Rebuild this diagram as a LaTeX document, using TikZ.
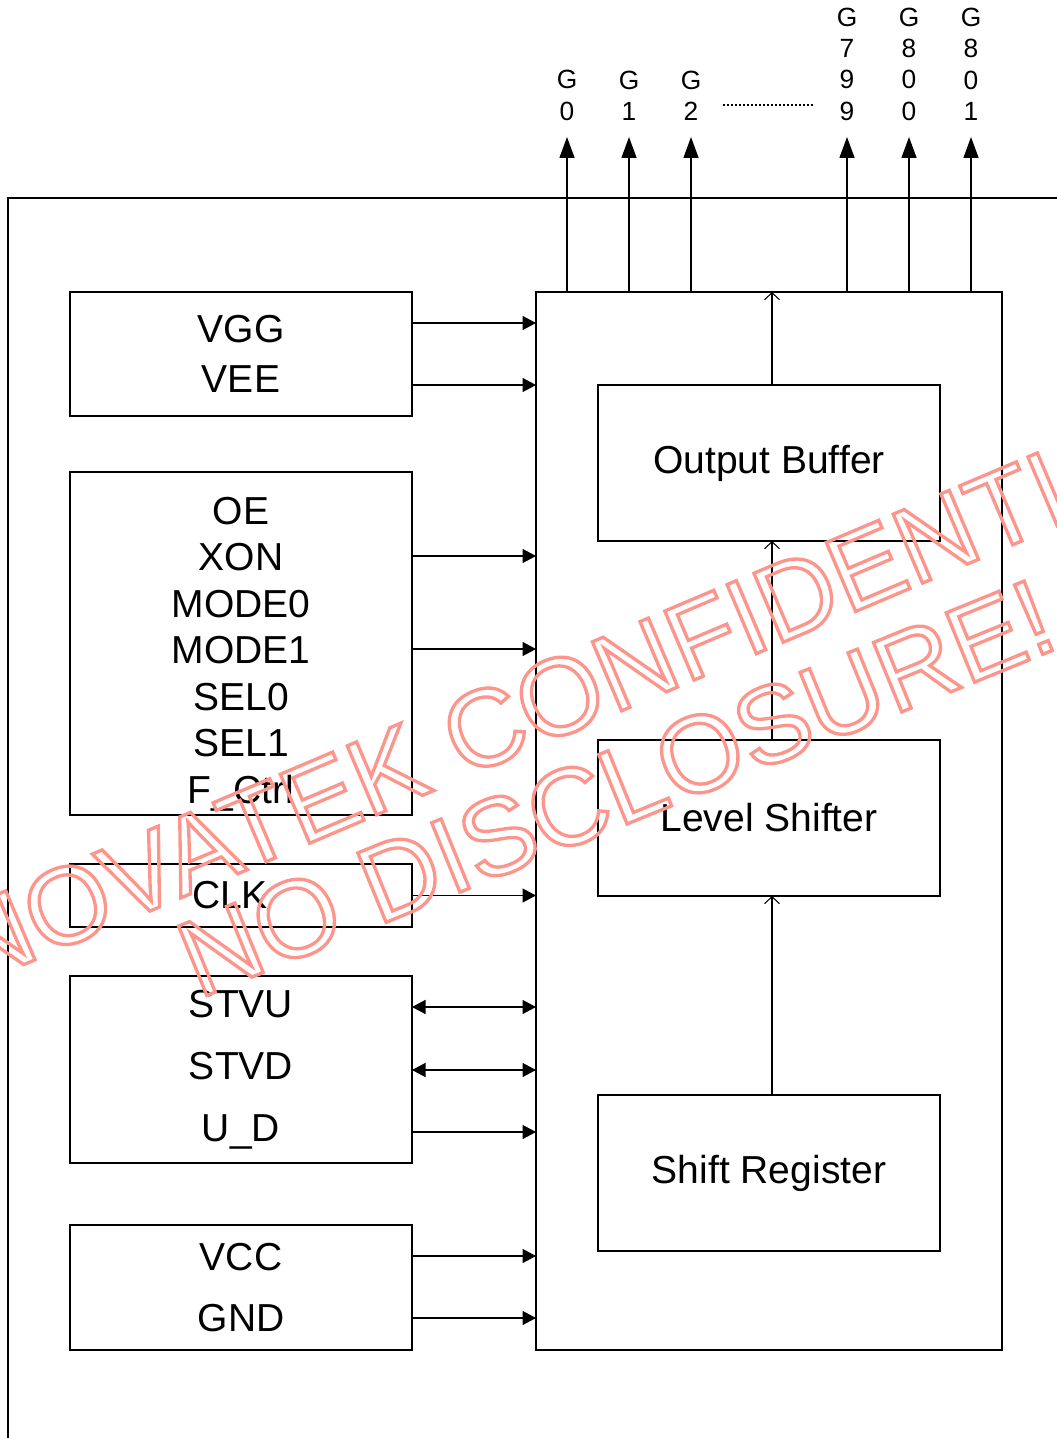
\documentclass[tikz,border=0pt]{standalone}
\usepackage{fontspec}
\setmainfont{Liberation Sans}
\usepackage{xcolor}
\definecolor{wmred}{RGB}{252,150,140}
\usetikzlibrary{arrows.meta,positioning,calc}

\begin{document}
\begin{tikzpicture}[
  blk/.style={draw,line width=1pt,outer sep=0pt,inner sep=0pt,minimum width=68.4mm,align=center,
    font=\fontsize{22.2pt}{26.5pt}\selectfont},
  sig/.style={-{Triangle[length=2.7mm,width=2.8mm]},line width=0.8pt},
  bidir/.style={{Triangle[length=2.7mm,width=2.8mm]}-{Triangle[length=2.7mm,width=2.8mm]},line width=0.8pt},
  flow/.style={-{Straight Barb[length=1.4mm,width=3mm]},line width=0.6pt},
  gout/.style={-{Triangle[length=4.2mm,width=3mm]},line width=0.8pt,shorten >=3.2mm},
  glab/.style={inner sep=0pt,anchor=south,align=center,font=\fontsize{15pt}{17.9pt}\selectfont},
  wm/.style={text=wmred,rotate=23,inner sep=0pt,font=\fontsize{62pt}{64pt}\selectfont}]
\useasboundingbox (0,0) rectangle (211.4mm,-287.6mm);
% chip outline
\draw[line width=1pt] (1.6mm,-287.6mm) -- (1.6mm,-39.6mm) -- (211.4mm,-39.6mm);
% input groups
\node[blk,minimum height=24.8mm,font=\fontsize{22.2pt}{28.3pt}\selectfont] (pwr) at (48.2mm,-70.8mm) {VGG\\VEE};
\node[blk,minimum height=68.6mm,below=11.2mm of pwr] (ctl) {\rule{0pt}{27.5pt}OE\\XON\\MODE0\\MODE1\\SEL0\\SEL1\\F\_Ctrl};
\node[blk,minimum height=12.6mm,below=9.8mm of ctl] (clk) {CLK\hspace*{4.4mm}};
\node[blk,minimum height=37.4mm,below=9.8mm of clk,font=\fontsize{22.2pt}{35.2pt}\selectfont] (stv) {STVU\\STVD\\U\_D};
\node[blk,minimum height=25mm,below=12.4mm of stv,font=\fontsize{22.2pt}{35.2pt}\selectfont] (vcc) {VCC\\GND};
% gate driver core
\node[draw,line width=1pt,outer sep=0pt,minimum width=93.2mm,minimum height=211.6mm,
  right=24.8mm of pwr.north east,anchor=north west] (core) {};
\node[blk,minimum height=31.2mm,below right=18.6mm and 12.4mm of core.north west] (buf) {Output Buffer};
\node[blk,minimum height=31.2mm,below=39.8mm of buf] (lvl) {Level Shifter};
\node[blk,minimum height=31.2mm,below=39.8mm of lvl] (sreg) {Shift Register};
\draw[flow] ([xshift=0.6mm]sreg.north) -- ([xshift=0.6mm]lvl.south);
\draw[flow] ([xshift=0.6mm]lvl.north) -- ([xshift=0.6mm]buf.south);
\draw[flow] ([xshift=0.6mm]buf.north) -- ([xshift=0.6mm]buf.north |- core.north);
% signals into the core
\foreach \dy in {6.2,18.6}
  \draw[sig] ($(pwr.north east)+(0,-\dy mm)$) -- ($(pwr.north east -| core.west)+(0,-\dy mm)$);
\foreach \dy in {16.8,35.4}
  \draw[sig] ($(ctl.north east)+(0,-\dy mm)$) -- ($(ctl.north east -| core.west)+(0,-\dy mm)$);
\draw[sig] (clk.east) -- (clk.east -| core.west);
\foreach \dy in {6.2,18.8}
  \draw[bidir] ($(stv.north east)+(0,-\dy mm)$) -- ($(stv.north east -| core.west)+(0,-\dy mm)$);
\draw[sig] ($(stv.north east)+(0,-31.2mm)$) -- ($(stv.north east -| core.west)+(0,-31.2mm)$);
\foreach \dy in {6.2,18.6}
  \draw[sig] ($(vcc.north east)+(0,-\dy mm)$) -- ($(vcc.north east -| core.west)+(0,-\dy mm)$);
% gate outputs
\foreach \x/\nm/\txt in {113.4/g0/{G\\0},125.8/g1/{G\\1},138.2/g2/{G\\2},
    169.4/g799/{G\\7\\9\\9},181.8/g800/{G\\8\\0\\0},194.2/g801/{G\\8\\0\\1}}{
  \node[glab] (\nm) at (\x mm,-24.2mm) {\txt};
  \draw[gout] (\nm.south |- core.north) -- (\nm.south);
}
\draw[line width=0.8pt,dash pattern=on 0.5mm off 0.3mm]
  ([shift={(4.2mm,3.2mm)}]g2.south east) -- ([shift={(-4.4mm,3.2mm)}]g799.south west);
% watermark
\node[wm] (wm1) at (114mm,-138.4mm) {\special{pdf:literal direct 1 Tr 1.9 w}NOVATEK CONFIDENTIAL\special{pdf:literal direct 0 Tr}};
\node[wm,rotate=-0.8] (wm2) at (123.2mm,-157.6mm) {\special{pdf:literal direct 1 Tr 1.9 w}NO DISCLOSURE!\special{pdf:literal direct 0 Tr}};
\end{tikzpicture}
\end{document}
